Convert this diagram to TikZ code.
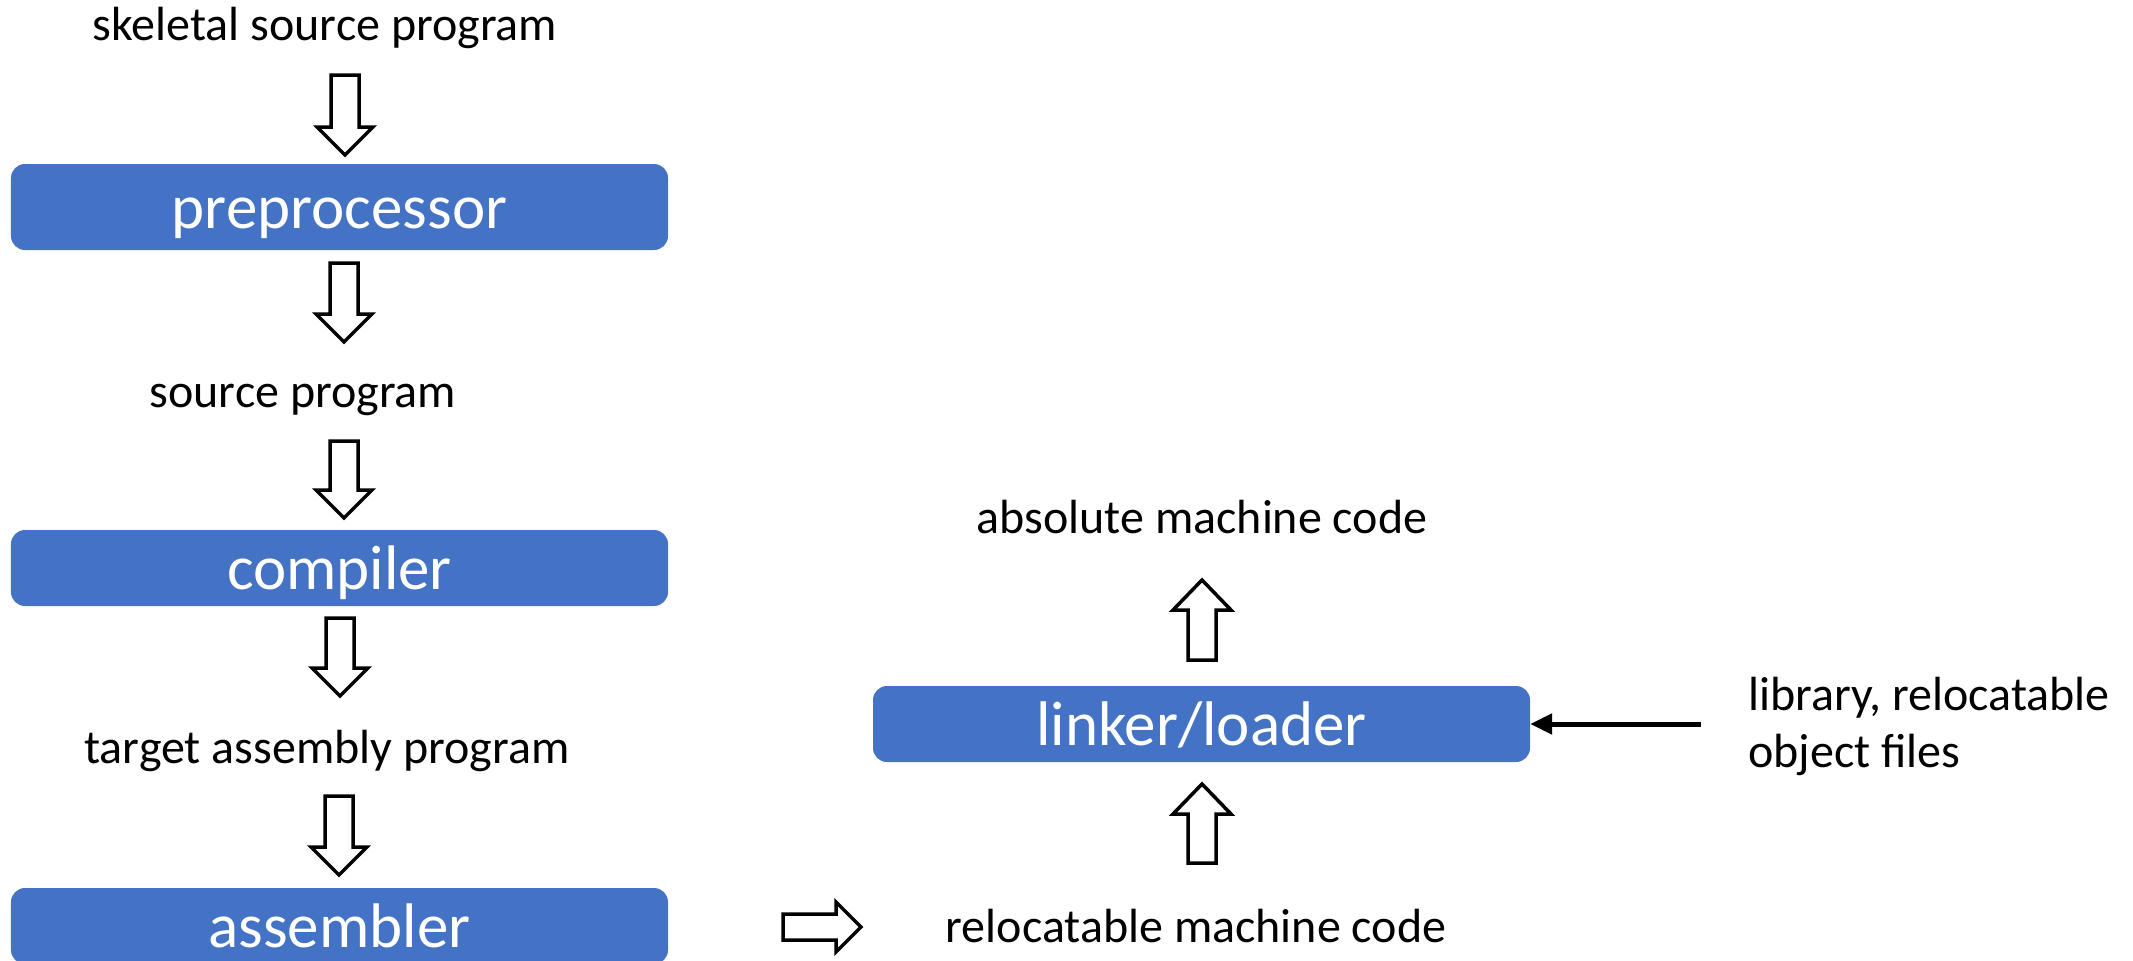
\documentclass[tikz,border=0pt]{standalone}
\usepackage{fontspec}
\setmainfont{Carlito}
\usetikzlibrary{arrows.meta}

\definecolor{boxblue}{RGB}{68,114,196}

\tikzset{
  procbox/.style={draw=none, fill=boxblue, rounded corners=14bp, text=white,
    inner sep=0pt, text height=42bp, text depth=0pt,
    font=\fontsize{63bp}{76bp}\selectfont},
  plainlabel/.style={anchor=base, inner sep=0pt, text=black,
    font=\fontsize{48bp}{57bp}\selectfont},
  hollowarrow/.style={draw=black, fill=white, line width=3.5bp, line join=miter},
  feedarrow/.style={draw=black, line width=5bp, -{Triangle[length=22bp,width=20bp]}}
}

% hollow block arrows: centre x, tail y, tip y (y grows downward)
\newcommand{\hollowdown}[3]{%
  \draw[hollowarrow] (#1-14,#2) -- (#1+14,#2) -- (#1+14,#3-28) -- (#1+28,#3-28)
    -- (#1,#3) -- (#1-28,#3-28) -- (#1-14,#3-28) -- cycle;}
\newcommand{\hollowup}[3]{%
  \draw[hollowarrow] (#1-14,#2) -- (#1+14,#2) -- (#1+14,#3+30) -- (#1+29,#3+30)
    -- (#1,#3) -- (#1-29,#3+30) -- (#1-14,#3+30) -- cycle;}
\newcommand{\hollowright}[3]{%
  \draw[hollowarrow] (#2,#1-13) -- (#2,#1+13) -- (#3-25,#1+13) -- (#3-25,#1+25)
    -- (#3,#1) -- (#3-25,#1-25) -- (#3-25,#1-13) -- cycle;}

\begin{document}
\begin{tikzpicture}[x=1bp, y=-1bp]
  \path[use as bounding box] (0,0) rectangle (2133,961);
  \clip (0,0) rectangle (2133,961);

  % processing stages
  \node[procbox, minimum width=657bp, minimum height=86bp] (pre)  at (339.5,207) {preprocessor};
  \node[procbox, minimum width=657bp, minimum height=76bp] (comp) at (339.5,568) {compiler};
  \node[procbox, minimum width=657bp, minimum height=76bp] (asm)  at (339.5,926) {assembler};
  \node[procbox, minimum width=657bp, minimum height=76bp] (link) at (1201.5,724) {linker/loader};

  % intermediate forms
  \node[plainlabel] (skel)   at (325,40)  {skeletal source program};
  \node[plainlabel] (src)    at (303,407) {source program};
  \node[plainlabel] (tgt)    at (327,763) {target assembly program};
  \node[plainlabel] (absmc)  at (1202,533) {absolute machine code};
  \node[plainlabel] (relmc)  at (1196,942) {relocatable machine code};
  \node[plainlabel, anchor=base west, align=left] (libs) at (1748,767)
    {library, relocatable\\object files};

  % flow between stages
  \hollowdown{345}{75}{155}
  \hollowdown{344}{263}{342}
  \hollowdown{344}{441}{518}
  \hollowdown{340}{618}{696}
  \hollowdown{339}{796}{875}
  \hollowright{927}{783}{861}
  \hollowup{1202}{660}{580}
  \hollowup{1202}{863}{784}

  \coordinate (libfeed) at (1701,724);
  \draw[feedarrow] (libfeed) -- (link.east);
\end{tikzpicture}
\end{document}
